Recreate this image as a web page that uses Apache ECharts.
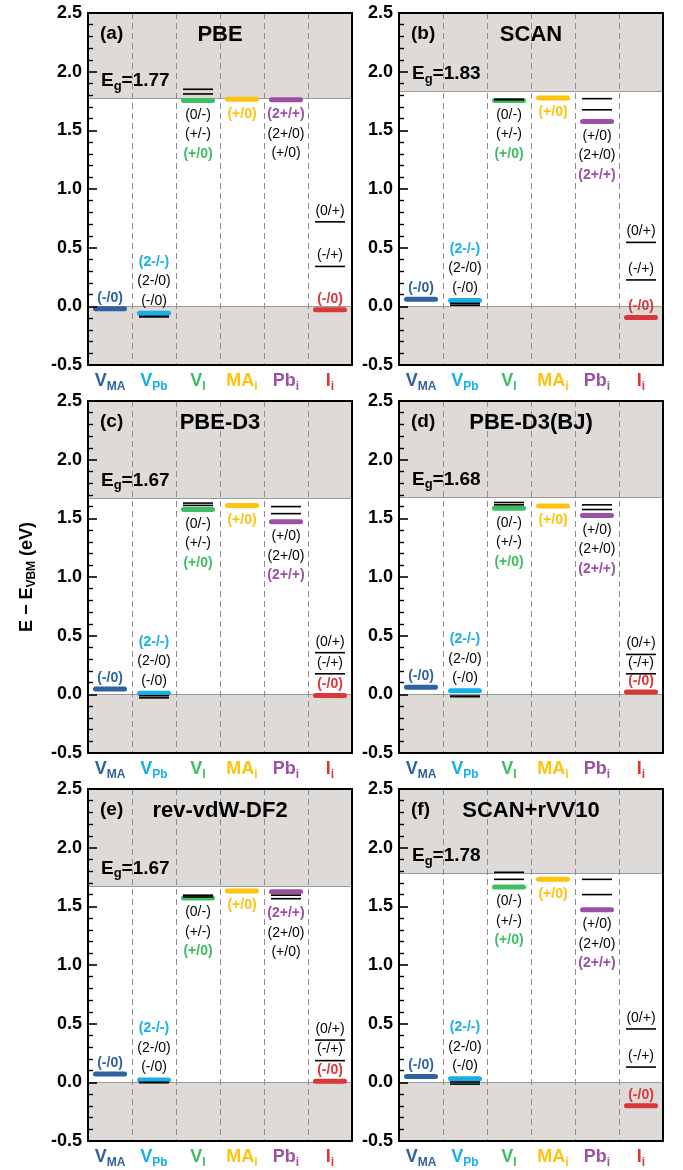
<!DOCTYPE html>
<html>
<head>
<meta charset="utf-8">
<script src="https://cdn.jsdelivr.net/npm/echarts@6/dist/echarts.min.js"></script>
<style>
html, body { margin: 0; padding: 0; background: #fff; }
#main { width: 683px; height: 1170px; }
</style>
</head>
<body>
<div id="main"></div>
<script>
// defect types (x categories)
const catMain = ['V', 'V', 'V', 'MA', 'Pb', 'I']
const catSub = ['MA', 'Pb', 'I', 'i', 'i', 'i']
const tags = ['(a)', '(b)', '(c)', '(d)', '(e)', '(f)']
const methods = ['PBE', 'SCAN', 'PBE-D3', 'PBE-D3(BJ)', 'rev-vdW-DF2', 'SCAN+rVV10']
const gaps = [1.77, 1.83, 1.67, 1.68, 1.67, 1.78]

// transition levels per defect: [E - Evbm (eV), label, stable?]  (null = not visible)
const pbe = [
  [[-0.02, '(-/0)', 1]],
  [[-0.06, '(2-/-)', 1], [-0.085, '(2-/0)', 0], [-0.09, '(-/0)', 0]],
  [[1.85, '(0/-)', 0], [1.81, '(+/-)', 0], [1.755, '(+/0)', 1]],
  [[1.765, '(+/0)', 1]],
  [[1.76, '(2+/+)', 1], [null, '(2+/0)', 0], [null, '(+/0)', 0]],
  [[0.72, '(0/+)', 0], [0.34, '(-/+)', 0], [-0.03, '(-/0)', 1]]
]
const scan = [
  [[0.06, '(-/0)', 1]],
  [[0.05, '(2-/-)', 1], [0.025, '(2-/0)', 0], [0.01, '(-/0)', 0]],
  [[1.765, '(0/-)', 0], [1.76, '(+/-)', 0], [1.755, '(+/0)', 1]],
  [[1.775, '(+/0)', 1]],
  [[1.77, '(+/0)', 0], [1.675, '(2+/0)', 0], [1.575, '(2+/+)', 1]],
  [[0.545, '(0/+)', 0], [0.225, '(-/+)', 0], [-0.095, '(-/0)', 1]]
]
const pbeD3 = [
  [[0.045, '(-/0)', 1]],
  [[0.01, '(2-/-)', 1], [-0.012, '(2-/0)', 0], [-0.03, '(-/0)', 0]],
  [[1.63, '(0/-)', 0], [1.61, '(+/-)', 0], [1.575, '(+/0)', 1]],
  [[1.61, '(+/0)', 1]],
  [[1.6, '(+/0)', 0], [1.54, '(2+/0)', 0], [1.47, '(2+/+)', 1]],
  [[0.355, '(0/+)', 0], [0.175, '(-/+)', 0], [-0.01, '(-/0)', 1]]
]
const pbeD3bj = [
  [[0.06, '(-/0)', 1]],
  [[0.03, '(2-/-)', 1], [-0.015, '(2-/0)', 0], [-0.02, '(-/0)', 0]],
  [[1.635, '(0/-)', 0], [1.615, '(+/-)', 0], [1.585, '(+/0)', 1]],
  [[1.605, '(+/0)', 1]],
  [[1.615, '(+/0)', 0], [1.575, '(2+/0)', 0], [1.525, '(2+/+)', 1]],
  [[0.34, '(0/+)', 0], [0.175, '(-/+)', 0], [0.02, '(-/0)', 1]]
]
const revVdw = [
  [[0.07, '(-/0)', 1]],
  [[0.02, '(2-/-)', 1], [0.0, '(2-/0)', 0], [-0.003, '(-/0)', 0]],
  [[1.595, '(0/-)', 0], [1.58, '(+/-)', 0], [1.57, '(+/0)', 1]],
  [[1.63, '(+/0)', 1]],
  [[1.625, '(2+/+)', 1], [1.595, '(2+/0)', 0], [1.565, '(+/0)', 0]],
  [[0.36, '(0/+)', 0], [0.185, '(-/+)', 0], [0.01, '(-/0)', 1]]
]
const scanVv10 = [
  [[0.05, '(-/0)', 1]],
  [[0.03, '(2-/-)', 1], [0.003, '(2-/0)', 0], [-0.015, '(-/0)', 0]],
  [[1.79, '(0/-)', 0], [1.73, '(+/-)', 0], [1.665, '(+/0)', 1]],
  [[1.73, '(+/0)', 1]],
  [[1.73, '(+/0)', 0], [1.6, '(2+/0)', 0], [1.47, '(2+/+)', 1]],
  [[0.455, '(0/+)', 0], [0.13, '(-/+)', 0], [-0.2, '(-/0)', 1]]
]
const panels = [pbe, scan, pbeD3, pbeD3bj, revVdw, scanVv10]

const catColors = ['#2f62a0', '#15b0e8', '#3dbe62', '#ffc20e', '#9b50a6', '#d8383a']
// where the labels sit for each defect column
const labelModes = ['each', 'above', 'below', 'below', 'below', 'each']
const FONT = '"Liberation Sans", Arial, Helvetica, sans-serif'
const gridLefts = [88, 399]
const gridTops = [13, 401, 789]
const GW = 264
const GH = 352

const chart = echarts.init(document.getElementById('main'))

function makeRender(levels) {
  return function(params, api) {
    const c = params.dataIndex
    const list = levels[c]
    const color = catColors[c]
    const cx = api.coord([c, 0])[0]
    const ys = list.filter(l => l[0] !== null).map(l => api.coord([c, l[0]])[1])
    const top = Math.min(...ys)
    const bottom = Math.max(...ys)
    const thick = []
    const thin = []
    const texts = []
    list.forEach((l, k) => {
      const y = l[0] === null ? null : api.coord([c, l[0]])[1]
      if (y !== null) {
        if (l[2]) {
          thick.push({ type: 'line', shape: { x1: cx - 14.5, y1: y, x2: cx + 14.5, y2: y },
            style: { stroke: color, lineWidth: 5, lineCap: 'round' } })
        } else {
          thin.push({ type: 'line', shape: { x1: cx - 15, y1: y, x2: cx + 15, y2: y },
            style: { stroke: '#000', lineWidth: 1.6 } })
        }
      }
      let ty
      if (labelModes[c] === 'each') ty = y - 11
      else if (labelModes[c] === 'above') ty = top - 12.5 - (list.length - 1 - k) * 19.5
      else ty = bottom + 14.5 + k * 19.5
      texts.push({ type: 'text', style: {
        text: l[1], x: cx, y: ty, fill: l[2] ? color : '#000',
        font: (l[2] ? 'bold ' : '') + '14px ' + FONT,
        align: 'center', verticalAlign: 'middle', textAlign: 'center', textVerticalAlign: 'middle'
      } })
    })
    return { type: 'group', children: thick.concat(thin, texts) }
  }
}

const rich = {}
catColors.forEach((col, i) => {
  rich['m' + i] = { color: col, fontSize: 18, fontWeight: 'bold', fontFamily: FONT, lineHeight: 22 }
  rich['s' + i] = { color: col, fontSize: 12, fontWeight: 'bold', fontFamily: FONT, lineHeight: 12, padding: [11, 0, 0, 0] }
})

const grid = []
const xAxis = []
const yAxis = []
const series = []
const graphic = []
panels.forEach((levels, i) => {
  const left = gridLefts[i % 2]
  const top = gridTops[Math.floor(i / 2)]
  grid.push({ left: left, top: top, width: GW, height: GH, show: true, borderColor: '#000', borderWidth: 2,
    backgroundColor: 'transparent', z: 10, outerBoundsMode: 'none' })
  xAxis.push({
    gridIndex: i, type: 'category', boundaryGap: true, z: 6, position: 'bottom',
    data: catMain.map((m, k) => m + '_' + catSub[k]),
    axisLine: { show: true, onZero: false, lineStyle: { color: '#000', width: 2 } },
    axisTick: { show: false },
    splitLine: { show: true, interval: 0, lineStyle: { color: '#8c8c8c', width: 1, type: [6, 4] } },
    axisLabel: { interval: 0, margin: 5, formatter: (v, idx) => `{m${idx}|${catMain[idx]}}{s${idx}|${catSub[idx]}}`, rich: rich }
  })
  const y = {
    gridIndex: i, type: 'value', min: -0.5, max: 2.5, interval: 0.5, z: 6,
    axisLine: { show: true, onZero: false, lineStyle: { color: '#000', width: 2 } },
    axisTick: { show: true, inside: true, length: 9, lineStyle: { color: '#000', width: 1.6 } },
    minorTick: { show: true, splitNumber: 5, length: 5, lineStyle: { color: '#000', width: 1.4 } },
    splitLine: { show: false },
    axisLabel: { color: '#000', fontSize: 18, fontWeight: 'bold', fontFamily: FONT, margin: 6, formatter: v => v.toFixed(1) }
  }
  if (i === 2) {
    y.name = 'E \u2212 E{s|VBM} (eV)'
    y.nameLocation = 'middle'
    y.nameRotate = 90
    y.nameGap = 50
    y.nameTextStyle = { color: '#000', fontSize: 18, fontWeight: 'bold', fontFamily: FONT,
      rich: { s: { fontSize: 12, fontWeight: 'bold', fontFamily: FONT, padding: [9, 0, 0, 0] } } }
  }
  yAxis.push(y)
  // band-edge shading and lines
  series.push({
    type: 'line', xAxisIndex: i, yAxisIndex: i, data: [], z: 1, silent: true,
    markArea: { silent: true, itemStyle: { color: '#dedad8' },
      data: [[{ yAxis: -0.5 }, { yAxis: 0 }], [{ yAxis: gaps[i] }, { yAxis: 2.5 }]] },
    markLine: { silent: true, symbol: 'none', animation: false,
      lineStyle: { color: '#9a9a9a', width: 1, type: 'solid' },
      data: [
        { yAxis: 0, label: { show: false } },
        { yAxis: gaps[i], label: {
          show: true, position: 'insideStartTop', distance: 6, padding: [0, 0, 0, 7],
          formatter: 'E{g|g}=' + gaps[i].toFixed(2),
          color: '#000', fontSize: 19, fontWeight: 'bold', fontFamily: FONT,
          rich: { g: { fontSize: 13, fontWeight: 'bold', fontFamily: FONT, padding: [10, 0, 0, 0] } }
        } }
      ] }
  })
  series.push({
    type: 'custom', xAxisIndex: i, yAxisIndex: i, z: 5, silent: true, clip: false,
    data: [[0], [1], [2], [3], [4], [5]],
    renderItem: makeRender(levels)
  })
  graphic.push({ type: 'text', x: left + 12, y: top + 21, z: 20,
    style: { text: tags[i], font: 'bold 19px ' + FONT, fill: '#000', align: 'left', verticalAlign: 'middle', textVerticalAlign: 'middle' } })
  graphic.push({ type: 'text', x: left + GW / 2, y: top + 22, z: 20,
    style: { text: methods[i], font: 'bold 22px ' + FONT, fill: '#000', align: 'center', verticalAlign: 'middle', textAlign: 'center', textVerticalAlign: 'middle' } })
})

chart.setOption({
  animation: false,
  backgroundColor: '#fff',
  grid: grid,
  xAxis: xAxis,
  yAxis: yAxis,
  graphic: graphic,
  series: series
})
</script>
</body>
</html>
